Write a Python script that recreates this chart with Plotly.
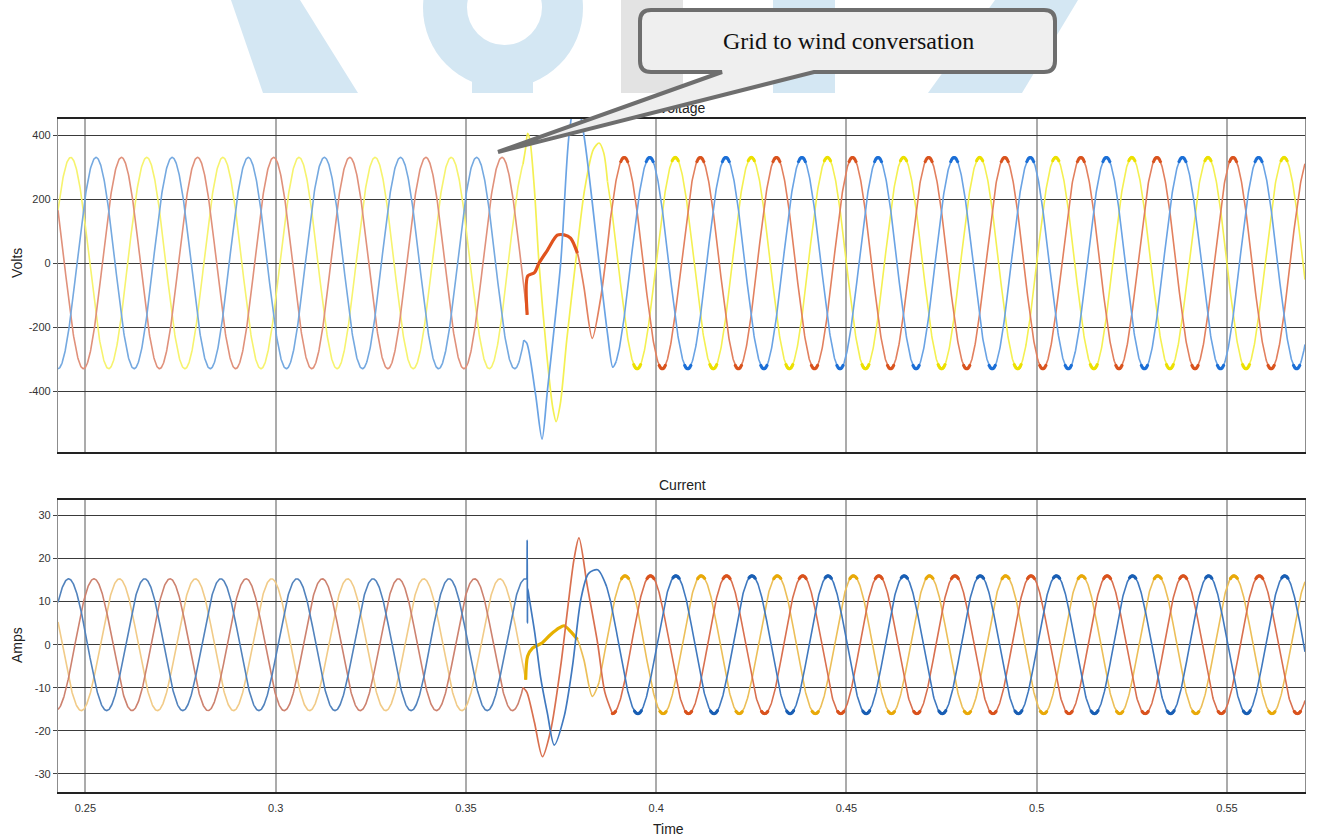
import numpy as np
import plotly.graph_objects as go

W, H = 1319, 838

# ---------------------------------------------------------------------------
# Time base
T_START, T_END = 0.2428, 0.5705
DT = 0.0001
FREQ = 50.0
X_TICKS = [0.25, 0.30, 0.35, 0.40, 0.45, 0.50, 0.55]
X_TICK_TEXT = ["0.25", "0.3", "0.35", "0.4", "0.45", "0.5", "0.55"]

# Phase order: blue, red, yellow
# ---------------------------------------------------------------------------
# Voltage (V)
V_AMP_PRE = 330.0
V_PEAK_T_PRE = [0.2528, 0.25947, 0.26613]
V_AMP_POST = 330.0
V_PEAK_T_POST = [0.3983, 0.3916, 0.4050]
V_PRE_END = [0.3652, 0.3661, 0.3650]
V_POST_START = [0.3895, 0.3880, 0.3872]
V_HIGHLIGHT_END = [None, 0.3794, None]

V_TR_BLUE_T = [0.3660, 0.3683, 0.3700, 0.3714, 0.3749, 0.3771, 0.3789, 0.3810, 0.3850, 0.3872, 0.3886]
V_TR_BLUE_V = [-250, -410, -550, -400, 0, 400, 520, 400, 0, -220, -325]
V_TR_RED_T = [0.36625, 0.3680, 0.3692, 0.3714, 0.3740, 0.3758, 0.3775, 0.3793, 0.3810, 0.3832, 0.3854, 0.3872]
V_TR_RED_V = [-40, -30, 0, 40, 87, 88, 78, 31, -74, -235, -110, 55]
V_TR_YEL_T = [0.3657, 0.3662, 0.3668, 0.3680, 0.3692, 0.3712, 0.3728, 0.3737, 0.3748, 0.3765,
              0.3788, 0.3812, 0.3835, 0.3850, 0.3862]
V_TR_YEL_V = [360, 405, 385, 230, 0, -280, -450, -495, -440, -240, 0, 230, 355, 375, 345]

V_TICKS = [-400, -200, 0, 200, 400]
V_RANGE = [-590, 450]

# ---------------------------------------------------------------------------
# Current (A)
I_AMP_PRE = 15.3
I_PEAK_T_PRE = [0.24558, 0.25225, 0.25892]
I_AMP_POST = 16.0
I_PEAK_T_POST = [0.40517, 0.3985, 0.41183]
I_PRE_END = [0.3660, 0.3650, 0.3657]
I_POST_START = [0.3870, 0.3885, 0.3850]
I_HIGHLIGHT_END = [None, None, 0.3794]

I_TR_BLUE_T = [0.36605, 0.36610, 0.36616, 0.36625, 0.3666, 0.3681, 0.3696, 0.3714, 0.3732,
               0.3758, 0.3780, 0.3802, 0.3822, 0.3846]
I_TR_BLUE_V = [15.6, 24.3, 5.0, 13.0, 11.0, 2.7, -7.4, -15.9, -23.3, -16.7, -5.0, 10.5, 16.5, 17.4]
I_TR_RED_T = [0.3660, 0.3680, 0.3701, 0.3723, 0.3749, 0.3767, 0.3784, 0.3797, 0.3819, 0.3846, 0.3865]
I_TR_RED_V = [-11.0, -18.0, -26.0, -19.8, -5.0, 8.1, 19.8, 24.8, 13.6, 0.4, -11.0]
I_TR_YEL_T = [0.3662, 0.3675, 0.3700, 0.3722, 0.3745, 0.3758, 0.3775, 0.3793, 0.3810, 0.3832]
I_TR_YEL_V = [-2.7, -0.8, 0.4, 2.3, 3.9, 4.4, 3.1, 1.2, -3.5, -12.0]

I_TICKS = [-30, -20, -10, 0, 10, 20, 30]
I_RANGE = [-34.2, 33.6]

# ---------------------------------------------------------------------------
# Colours
V_COL_PRE = ["#75a9e0", "#e0917b", "#f6f36e"]
V_COL_POST = ["#6aa3e4", "#e2805f", "#f4f052"]
V_COL_HL = ["#1c6fd6", "#e0531e", "#ece000"]
V_COL_CAP = ["#1c6fd6", "#d9531e", "#ece000"]

I_COL_PRE = ["#5283bd", "#cd826f", "#f1cb88"]
I_COL_POST = ["#4079bf", "#d9704f", "#ecbf58"]
I_COL_HL = ["#1a5fb4", "#d9531e", "#e6b000"]
I_COL_CAP = ["#1a5fb4", "#d9531e", "#e8a90a"]


def px(x):
    return x / W


def py(y):
    return 1 - y / H


def wave(t, amp, t_peak):
    return amp * np.cos(2 * np.pi * FREQ * (t - t_peak))


fig = go.Figure()


def add_phase(xa, ya, amp_pre, tp_pre, amp_post, tp_post, t_pre_end, t_post_start,
              tr_t, tr_v, hl_end, c_pre, c_post, c_hl, c_cap):
    t_pre = np.append(np.arange(T_START, t_pre_end, DT), t_pre_end)
    t_post = np.append(np.arange(t_post_start, T_END, DT), T_END)
    v_pre = wave(t_pre, amp_pre, tp_pre)
    v_post = wave(t_post, amp_post, tp_post)
    common = dict(xaxis=xa, yaxis=ya, showlegend=False, hoverinfo="skip")
    fig.add_trace(go.Scatter(x=t_pre, y=v_pre, mode="lines",
                             line=dict(color=c_pre, width=1.6), **common))
    fig.add_trace(go.Scatter(x=t_post, y=v_post, mode="lines",
                             line=dict(color=c_post, width=1.6), **common))
    # transient between the two steady states
    tt = [t_pre_end] + list(tr_t) + [t_post_start]
    vv = [float(v_pre[-1])] + list(tr_v) + [float(v_post[0])]
    fig.add_trace(go.Scatter(x=tt, y=vv, mode="lines",
                             line=dict(color=c_post, width=1.7, shape="spline", smoothing=0.8),
                             **common))
    if hl_end is not None:
        ht = [t for t in tt if t <= hl_end]
        hv = vv[:len(ht)]
        fig.add_trace(go.Scatter(x=ht, y=hv, mode="lines",
                                 line=dict(color=c_hl, width=3.2, shape="spline", smoothing=0.8),
                                 **common))
    # dense sample clusters at the crests after the change-over
    mask = np.abs(v_post) > 0.955 * amp_post
    fig.add_trace(go.Scatter(x=t_post[mask][::2], y=v_post[mask][::2], mode="markers",
                             marker=dict(color=c_cap, size=3.2), **common))


v_tr_t = [V_TR_BLUE_T, V_TR_RED_T, V_TR_YEL_T]
v_tr_v = [V_TR_BLUE_V, V_TR_RED_V, V_TR_YEL_V]
i_tr_t = [I_TR_BLUE_T, I_TR_RED_T, I_TR_YEL_T]
i_tr_v = [I_TR_BLUE_V, I_TR_RED_V, I_TR_YEL_V]

for k in [2, 1, 0]:
    add_phase("x", "y", V_AMP_PRE, V_PEAK_T_PRE[k], V_AMP_POST, V_PEAK_T_POST[k],
              V_PRE_END[k], V_POST_START[k], v_tr_t[k], v_tr_v[k], V_HIGHLIGHT_END[k],
              V_COL_PRE[k], V_COL_POST[k], V_COL_HL[k], V_COL_CAP[k])
for k in [2, 1, 0]:
    add_phase("x2", "y2", I_AMP_PRE, I_PEAK_T_PRE[k], I_AMP_POST, I_PEAK_T_POST[k],
              I_PRE_END[k], I_POST_START[k], i_tr_t[k], i_tr_v[k], I_HIGHLIGHT_END[k],
              I_COL_PRE[k], I_COL_POST[k], I_COL_HL[k], I_COL_CAP[k])

x_dom = [px(58), px(1305)]
tick_font = dict(family="Liberation Sans, Arial", size=11, color="#333")

xcommon = dict(range=[T_START, T_END], domain=x_dom, tickvals=X_TICKS, ticktext=X_TICK_TEXT,
               showgrid=True, gridcolor="#ababab", gridwidth=2, zeroline=False,
               showline=True, linecolor="#222", linewidth=1.6, mirror=True, ticks="",
               tickfont=tick_font)
ycommon = dict(showgrid=True, gridcolor="#3a3a3a", gridwidth=1, zeroline=False,
               showline=True, linecolor="#8c8c8c", linewidth=1.2, mirror=True,
               ticks="outside", ticklen=4, tickcolor="#444", tickfont=tick_font)

fig.update_layout(
    width=W, height=H,
    margin=dict(l=0, r=0, t=0, b=0),
    paper_bgcolor="white", plot_bgcolor="white",
    xaxis=dict(anchor="y", showticklabels=False, **xcommon),
    yaxis=dict(anchor="x", domain=[py(452), py(119)], range=V_RANGE, tickvals=V_TICKS,
               ticktext=[str(v) for v in V_TICKS], **ycommon),
    xaxis2=dict(anchor="y2", showticklabels=True, ticklabelstandoff=5, **xcommon),
    yaxis2=dict(anchor="x2", domain=[py(792), py(500)], range=I_RANGE, tickvals=I_TICKS,
                ticktext=[str(v) for v in I_TICKS], **ycommon),
)

label_font = dict(family="Liberation Sans, Arial", size=14, color="#222")
annotations = [
    dict(text="Volts", x=px(17), y=py(263), textangle=-90, font=label_font),
    dict(text="Amps", x=px(17), y=py(645), textangle=-90, font=label_font),
    dict(text="Current", x=px(682), y=py(485), font=label_font),
    dict(text="Time", x=px(668), y=py(829), font=label_font),
    dict(text="Grid to wind conversation", x=px(848), y=py(41),
         font=dict(family="Liberation Serif, Times New Roman", size=24, color="#111")),
]
for a in annotations:
    a.update(xref="paper", yref="paper", showarrow=False, xanchor="center", yanchor="middle")
fig.update_layout(annotations=annotations)

# Faint logo fragments behind the header area
WM_BLUE = "#d4e7f3"
WM_GREY = "#e3e3e3"


def poly(points):
    return "M " + " L ".join(f"{px(x):.5f},{py(y):.5f}" for x, y in points) + " Z"


shapes = [
    dict(type="path", path=poly([(231, 0), (300, 0), (358, 93), (263, 93)]),
         fillcolor=WM_BLUE, line=dict(width=0), layer="below"),
    dict(type="circle", x0=px(423), x1=px(583), y0=py(88), y1=py(-72),
         fillcolor=WM_BLUE, line=dict(width=0), layer="below"),
    dict(type="rect", x0=px(472), x1=px(533), y0=py(93), y1=py(60),
         fillcolor=WM_BLUE, line=dict(width=0), layer="below"),
    dict(type="circle", x0=px(467), x1=px(542), y0=py(45), y1=py(-30),
         fillcolor="white", line=dict(width=0), layer="below"),
    dict(type="rect", x0=px(621), x1=px(683), y0=py(93), y1=py(0),
         fillcolor=WM_GREY, line=dict(width=0), layer="below"),
    dict(type="rect", x0=px(773), x1=px(835), y0=py(93), y1=py(0),
         fillcolor=WM_BLUE, line=dict(width=0), layer="below"),
    dict(type="path", path=poly([(995, 0), (1078, 0), (1022, 93), (928, 93)]),
         fillcolor=WM_BLUE, line=dict(width=0), layer="below"),
]

# Title of the upper panel (partly hidden by the callout drawn after it)
shapes.append(dict(type="rect", x0=px(640), x1=px(724), y0=py(116), y1=py(98),
                   line=dict(width=0), fillcolor="rgba(0,0,0,0)", layer="above",
                   label=dict(text="Voltage", textposition="middle center",
                              font=dict(family="Liberation Sans, Arial", size=14, color="#222"))))

# Callout box with pointer
bx0, bx1, by0, by1, r = 640, 1055, 10, 72, 11
tip = (498, 152)
seg = [
    f"M {px(bx0 + r):.5f},{py(by0):.5f}",
    f"L {px(bx1 - r):.5f},{py(by0):.5f}",
    f"Q {px(bx1):.5f},{py(by0):.5f} {px(bx1):.5f},{py(by0 + r):.5f}",
    f"L {px(bx1):.5f},{py(by1 - r):.5f}",
    f"Q {px(bx1):.5f},{py(by1):.5f} {px(bx1 - r):.5f},{py(by1):.5f}",
    f"L {px(814):.5f},{py(by1):.5f}",
    f"L {px(tip[0]):.5f},{py(tip[1]):.5f}",
    f"L {px(722):.5f},{py(by1):.5f}",
    f"L {px(bx0 + r):.5f},{py(by1):.5f}",
    f"Q {px(bx0):.5f},{py(by1):.5f} {px(bx0):.5f},{py(by1 - r):.5f}",
    f"L {px(bx0):.5f},{py(by0 + r):.5f}",
    f"Q {px(bx0):.5f},{py(by0):.5f} {px(bx0 + r):.5f},{py(by0):.5f}",
    "Z",
]
shapes.append(dict(type="path", path=" ".join(seg),
                   fillcolor="#efefef", line=dict(color="#6e6e6e", width=4), layer="above"))

for s in shapes:
    s.setdefault("xref", "paper")
    s.setdefault("yref", "paper")
fig.update_layout(shapes=shapes)

fig.write_html("out.html", config={"displayModeBar": False})
